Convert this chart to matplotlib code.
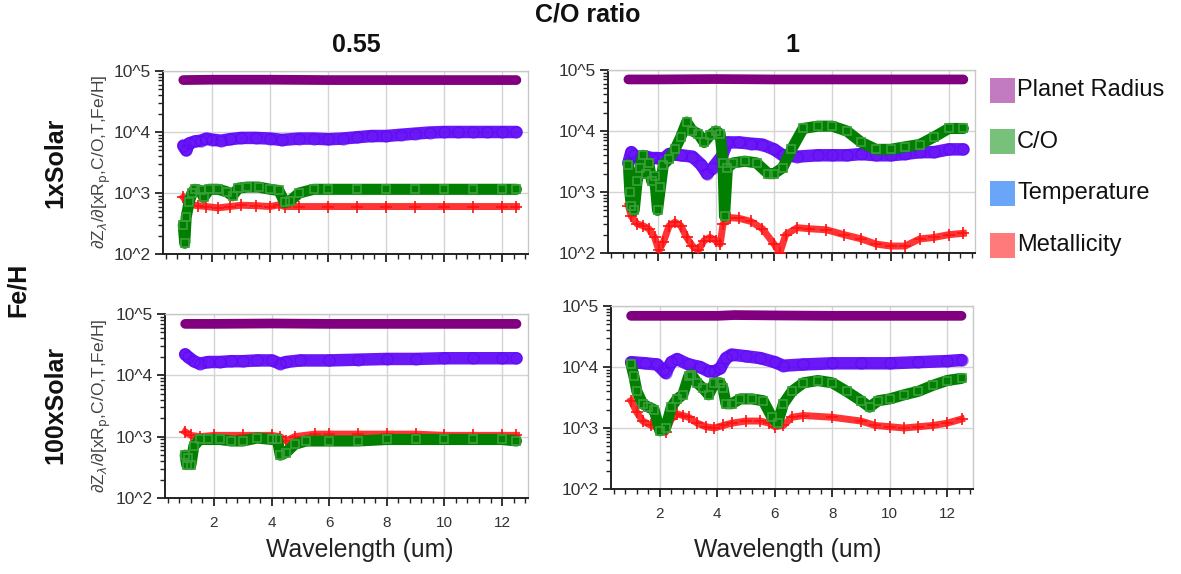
import matplotlib
matplotlib.use("Agg")
import matplotlib.pyplot as plt
from matplotlib.patches import Rectangle
from matplotlib.ticker import FixedLocator, MultipleLocator, LogLocator, NullFormatter

plt.rcParams["font.family"] = ["Liberation Sans", "DejaVu Sans"]

# ---- data (wavelength in um, sensitivity values) ----
# panel 1xSolar, C/O = 0.55
tl_rad_x = [1.0, 2.0, 4.0, 6.0, 8.0, 10.0, 12.5]
tl_rad_y = [7.1e4, 7.2e4, 7.2e4, 7.1e4, 7.1e4, 7.1e4, 7.1e4]
tl_temp_x = [1.0, 1.1, 1.2, 1.4, 1.6, 1.8, 2.0, 2.3, 2.6, 3.0, 3.5, 4.0, 4.4, 5.0, 5.5,
             6.0, 6.5, 7.0, 7.5, 8.0, 8.5, 9.0, 9.5, 10.0, 10.5, 11.0, 11.5, 12.0, 12.5]
tl_temp_y = [6000, 5000, 6500, 7000, 7200, 7800, 7500, 7200, 7600, 8000, 8000, 7800, 7400,
             7800, 7800, 7600, 7800, 8200, 8600, 8600, 9000, 9400, 9800, 1.0e4, 1.0e4,
             1.0e4, 1.0e4, 1.0e4, 1.0e4]
tl_co_x = [1.0, 1.05, 1.1, 1.2, 1.3, 1.4, 1.6, 1.7, 1.9, 2.2, 2.5, 2.7, 2.9, 3.2, 3.6, 4.0,
           4.3, 4.5, 4.7, 5.0, 5.5, 6.0, 7.0, 8.0, 9.0, 10.0, 11.0, 12.0, 12.5]
tl_co_y = [300, 150, 400, 700, 1000, 1150, 1100, 850, 1150, 1150, 1050, 900, 1200, 1250,
           1250, 1150, 1100, 700, 750, 1000, 1150, 1150, 1150, 1150, 1150, 1150, 1150, 1150, 1150]
tl_met_x = [1.0, 1.2, 1.5, 1.8, 2.2, 2.6, 3.0, 3.5, 4.0, 4.3, 4.5, 5.0, 6.0, 7.0, 8.0, 9.0,
            10.0, 11.0, 12.0, 12.5]
tl_met_y = [850, 650, 620, 600, 570, 600, 630, 620, 600, 640, 600, 600, 600, 600, 600, 600,
            600, 600, 600, 600]

# panel 1xSolar, C/O = 1
tr_rad_x = [1.0, 2.0, 4.0, 6.0, 8.0, 10.0, 12.5]
tr_rad_y = [7.0e4, 7.0e4, 7.1e4, 7.0e4, 7.0e4, 7.0e4, 7.0e4]
tr_temp_x = [1.0, 1.1, 1.2, 1.4, 1.6, 1.8, 2.0, 2.2, 2.4, 2.8, 3.2, 3.5, 3.7, 3.9, 4.2, 4.4,
             4.8, 5.2, 5.6, 6.0, 6.3, 6.8, 7.5, 8.0, 8.5, 9.0, 9.5, 10.0, 10.5, 11.0, 11.5,
             12.0, 12.5]
tr_temp_y = [3000, 4500, 4000, 3500, 3800, 3600, 3600, 3500, 4200, 4000, 3800, 2800, 2000,
             2500, 3800, 6500, 6500, 6200, 6000, 5000, 4000, 3800, 4000, 4000, 4000, 4200,
             4000, 4000, 4200, 4500, 4500, 5000, 5000]
tr_co_x = [1.0, 1.05, 1.1, 1.2, 1.3, 1.4, 1.5, 1.6, 1.7, 1.8, 1.9, 2.0, 2.1, 2.2, 2.4, 2.6,
           2.8, 3.0, 3.2, 3.4, 3.6, 3.8, 4.0, 4.15, 4.25, 4.3, 4.4, 4.6, 5.0, 5.4, 5.8, 6.0,
           6.3, 6.6, 7.0, 7.5, 8.0, 8.5, 9.0, 9.5, 10.0, 10.5, 11.0, 11.5, 12.0, 12.5]
tr_co_y = [2800, 1000, 600, 500, 1500, 2500, 4000, 2000, 3000, 1500, 1800, 500, 1200, 2800,
           3500, 5000, 8000, 1.4e4, 1.0e4, 9000, 6500, 8500, 1.0e4, 9000, 3000, 400, 2500,
           3000, 3200, 3000, 2000, 2000, 2500, 5000, 1.1e4, 1.2e4, 1.2e4, 1.0e4, 6500, 5000,
           5000, 5500, 6000, 8000, 1.1e4, 1.1e4]
tr_met_x = [1.0, 1.1, 1.3, 1.5, 1.7, 1.9, 2.05, 2.2, 2.4, 2.6, 2.8, 3.0, 3.2, 3.4, 3.6, 3.8,
            4.0, 4.15, 4.25, 4.5, 4.8, 5.2, 5.6, 6.0, 6.2, 6.4, 6.8, 7.2, 7.8, 8.4, 9.0,
            9.5, 10.0, 10.5, 11.0, 11.5, 12.0, 12.5]
tr_met_y = [600, 400, 300, 280, 250, 180, 110, 150, 280, 320, 280, 180, 130, 110, 160, 180,
            160, 140, 300, 380, 370, 330, 250, 140, 100, 200, 260, 250, 240, 200, 170, 140,
            130, 130, 170, 180, 200, 210]

# panel 100xSolar, C/O = 0.55
bl_rad_x = [1.0, 2.0, 4.0, 6.0, 8.0, 10.0, 12.5]
bl_rad_y = [6.9e4, 6.9e4, 7.0e4, 6.9e4, 6.9e4, 6.9e4, 6.9e4]
bl_temp_x = [1.0, 1.1, 1.3, 1.5, 1.8, 2.2, 2.6, 3.0, 3.5, 4.0, 4.3, 4.5, 5.0, 6.0, 7.0, 8.0,
             9.0, 10.0, 11.0, 12.0, 12.5]
bl_temp_y = [2.2e4, 2.0e4, 1.7e4, 1.55e4, 1.65e4, 1.65e4, 1.7e4, 1.7e4, 1.75e4, 1.75e4,
             1.55e4, 1.65e4, 1.75e4, 1.75e4, 1.8e4, 1.85e4, 1.85e4, 1.9e4, 1.9e4, 1.9e4, 1.9e4]
bl_co_x = [1.0, 1.05, 1.1, 1.2, 1.3, 1.5, 1.8, 2.2, 2.6, 3.0, 3.5, 4.0, 4.2, 4.3, 4.5, 4.8,
           5.2, 6.0, 7.0, 8.0, 9.0, 10.0, 11.0, 12.0, 12.5]
bl_co_y = [500, 350, 450, 350, 700, 900, 900, 900, 850, 850, 950, 900, 900, 500, 550, 750,
           850, 850, 850, 900, 900, 900, 900, 900, 850]
bl_met_x = [1.0, 1.2, 1.5, 2.0, 3.0, 4.0, 4.3, 4.5, 4.8, 5.5, 6.0, 7.0, 8.0, 9.0, 10.0, 11.0,
            12.0, 12.5]
bl_met_y = [1200, 1050, 1000, 1050, 1050, 1050, 1000, 850, 1000, 1100, 1100, 1100, 1100,
            1100, 1050, 1050, 1050, 1050]

# panel 100xSolar, C/O = 1
br_rad_x = [1.0, 2.0, 4.0, 4.6, 6.0, 8.0, 10.0, 12.5]
br_rad_y = [6.9e4, 6.9e4, 6.9e4, 7.1e4, 7.0e4, 6.9e4, 6.9e4, 6.9e4]
br_temp_x = [1.0, 1.5, 1.9, 2.1, 2.2, 2.4, 2.6, 3.0, 3.4, 3.7, 3.9, 4.1, 4.3, 4.5, 5.0, 5.5,
             6.0, 6.3, 7.0, 8.0, 9.0, 10.0, 11.0, 12.0, 12.5]
br_temp_y = [1.2e4, 1.15e4, 1.1e4, 9000, 8000, 1.2e4, 1.35e4, 1.1e4, 1.0e4, 8500, 8500,
             9500, 1.4e4, 1.6e4, 1.5e4, 1.4e4, 1.2e4, 1.05e4, 1.1e4, 1.15e4, 1.15e4,
             1.15e4, 1.2e4, 1.25e4, 1.3e4]
br_co_x = [1.0, 1.1, 1.2, 1.4, 1.6, 1.8, 2.0, 2.2, 2.4, 2.6, 2.8, 3.0, 3.1, 3.3, 3.5, 3.7,
           3.9, 4.1, 4.2, 4.3, 4.5, 4.8, 5.2, 5.6, 5.9, 6.1, 6.3, 6.6, 7.0, 7.5, 8.0, 8.5,
           9.0, 9.3, 9.6, 10.0, 10.5, 11.0, 11.5, 12.0, 12.5]
br_co_y = [1.1e4, 7000, 4000, 2500, 2200, 2000, 900, 1000, 2200, 3000, 3500, 7000, 7500,
           5500, 4500, 3500, 5500, 5500, 4500, 2500, 2500, 3000, 3000, 2800, 1500, 1200,
           2500, 4000, 5500, 6000, 5500, 4000, 2800, 2200, 2800, 3000, 3500, 4000, 5000,
           6000, 6500]
br_met_x = [1.0, 1.2, 1.4, 1.7, 2.0, 2.2, 2.4, 2.6, 2.8, 3.0, 3.3, 3.6, 3.9, 4.2, 4.5, 5.0,
            5.5, 5.8, 6.0, 6.3, 6.6, 7.0, 8.0, 9.0, 9.5, 10.0, 10.5, 11.0, 11.5, 12.0, 12.5]
br_met_y = [2800, 1800, 1300, 1100, 1000, 850, 1400, 1700, 1600, 1500, 1200, 1050, 1000,
            1100, 1200, 1300, 1300, 1200, 1050, 1100, 1500, 1600, 1500, 1300, 1100, 1050,
            1000, 1050, 1100, 1200, 1400]

y_ticks = [1e2, 1e3, 1e4, 1e5]
y_tick_labels = ["10^2", "10^3", "10^4", "10^5"]
x_ticks = [2, 4, 6, 8, 10, 12]
legend_labels = ["Planet Radius", "C/O", "Temperature", "Metallicity"]
legend_colors = ["#c27bc0", "#77c17a", "#6aa6f8", "#ff7b7b"]

C_RAD = "#800080"
C_TEMP = "#5a00f5"
C_CO = "#007f00"
C_MET = "#ff1010"


def draw_panel(ax, rad, temp, co, met, xlabels):
    ax.plot(*rad, color=C_RAD, lw=7, solid_capstyle="round", zorder=3)
    ax.plot(*temp, color=C_TEMP, lw=9, solid_capstyle="round", alpha=0.9, zorder=4)
    ax.plot(*temp, ls="none", marker="o", ms=8, mfc="none", mec=C_TEMP, alpha=0.5,
            zorder=4)
    ax.plot(*met, color=C_MET, lw=5, alpha=0.85, zorder=5)
    ax.plot(*met, ls="none", marker="+", ms=9, mew=1.2, color=C_MET, zorder=5)
    ax.plot(*co, color=C_CO, lw=8, solid_capstyle="round", zorder=6)
    ax.plot(*co, ls="none", marker="s", ms=6, mfc="none", mec="#3aa03a", mew=1.2,
            zorder=6)

    ax.set_yscale("log")
    ax.set_ylim(1e2, 1e5)
    ax.set_xlim(0.3, 12.9)
    ax.yaxis.set_major_locator(FixedLocator(y_ticks))
    ax.set_yticklabels(y_tick_labels)
    ax.yaxis.set_minor_locator(LogLocator(base=10, subs=range(2, 10)))
    ax.yaxis.set_minor_formatter(NullFormatter())
    ax.xaxis.set_major_locator(FixedLocator(x_ticks))
    ax.xaxis.set_minor_locator(MultipleLocator(0.4))
    if not xlabels:
        ax.set_xticklabels([])

    ax.grid(True, which="major", color="#d4d4d4", lw=1.0, zorder=0)
    ax.set_axisbelow(True)
    for side in ("top", "right"):
        ax.spines[side].set_color("#c8c8c8")
        ax.spines[side].set_linewidth(1.0)
    for side in ("left", "bottom"):
        ax.spines[side].set_color("#222222")
        ax.spines[side].set_linewidth(1.4)
    ax.tick_params(which="major", direction="out", length=6, width=1.3,
                   colors="#222222", labelcolor="#333333", labelsize=12.5, pad=3)
    ax.tick_params(axis="x", which="major", labelsize=11, pad=7)
    ax.tick_params(which="minor", direction="out", length=3.5, width=1.0,
                   colors="#222222")


fig = plt.figure(figsize=(11.81, 5.74), dpi=100)
W, H = 1181, 574


def px_axes(left, top, right, bottom):
    return fig.add_axes([left / W, 1 - bottom / H, (right - left) / W, (bottom - top) / H])


ax_tl = px_axes(163, 71, 528, 254)
ax_tr = px_axes(608, 70, 975, 253)
ax_bl = px_axes(165, 314, 528, 498)
ax_br = px_axes(611, 306, 973, 489)

draw_panel(ax_tl, (tl_rad_x, tl_rad_y), (tl_temp_x, tl_temp_y), (tl_co_x, tl_co_y),
           (tl_met_x, tl_met_y), False)
draw_panel(ax_tr, (tr_rad_x, tr_rad_y), (tr_temp_x, tr_temp_y), (tr_co_x, tr_co_y),
           (tr_met_x, tr_met_y), False)
draw_panel(ax_bl, (bl_rad_x, bl_rad_y), (bl_temp_x, bl_temp_y), (bl_co_x, bl_co_y),
           (bl_met_x, bl_met_y), True)
draw_panel(ax_br, (br_rad_x, br_rad_y), (br_temp_x, br_temp_y), (br_co_x, br_co_y),
           (br_met_x, br_met_y), True)

# headers and row labels
bold = dict(fontsize=18, fontweight="bold", color="#111111")
fig.text(588 / W, 1 - 15 / H, "C/O ratio", ha="center", va="center", **bold)
fig.text(356 / W, 1 - 45 / H, "0.55", ha="center", va="center", **bold)
fig.text(792 / W, 1 - 45 / H, "1", ha="center", va="center", **bold)
fig.text(55 / W, 1 - 163 / H, "1xSolar", rotation=90, ha="center", va="center", **bold)
fig.text(55 / W, 1 - 405 / H, "100xSolar", rotation=90, ha="center", va="center", **bold)
fig.text(18 / W, 1 - 290 / H, "Fe/H", rotation=90, ha="center", va="center", **bold)

ylab = r"∂Z$_\lambda$/∂[xR$_\mathrm{p}$,C/O,T,Fe/H]"
for yc in (162, 406):
    fig.text(101 / W, 1 - yc / H, ylab, rotation=90, ha="center", va="center",
             fontsize=12.5, color="#444444")

for xc in (360, 788):
    fig.text(xc / W, 1 - 550 / H, "Wavelength (um)", ha="center", va="center",
             fontsize=17.8, color="#222222")

# legend on the right
for i, (lab, col) in enumerate(zip(legend_labels, legend_colors)):
    yc = 90 + i * 51.7
    fig.patches.append(Rectangle((990 / W, 1 - (yc + 12.5) / H), 25 / W, 25 / H,
                                 transform=fig.transFigure, facecolor=col,
                                 edgecolor="none"))
    fig.text(1017 / W, 1 - yc / H, lab, ha="left", va="center", fontsize=17,
             color="#111111")

fig.savefig("out.png", dpi=100)
